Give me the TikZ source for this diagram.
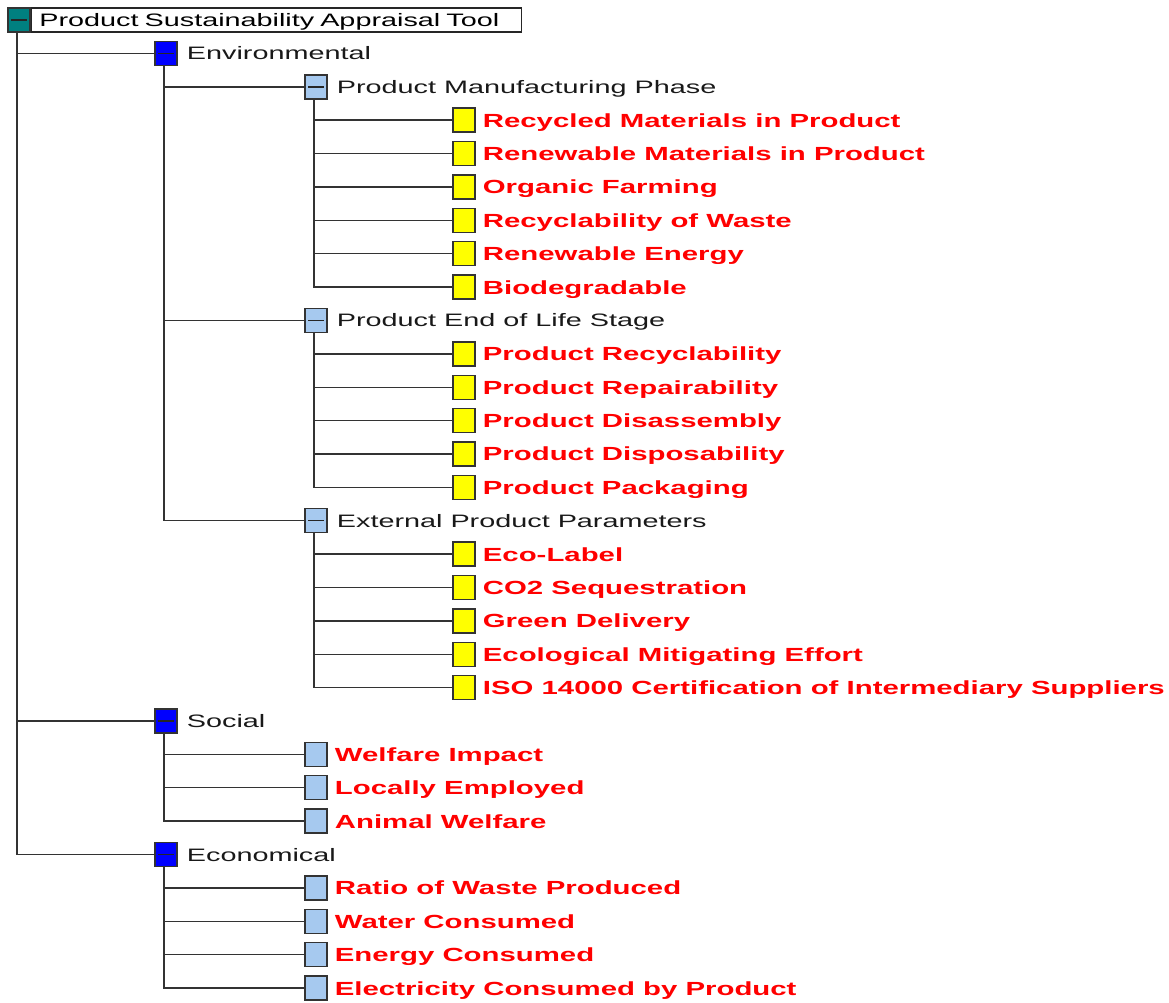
\documentclass[tikz,border=0pt]{standalone}
\usepackage{fontspec}
\setmainfont{Liberation Sans}
\newfontfamily\wideregular[FakeStretch=1.6]{Liberation Sans}
\newfontfamily\widebold[FakeStretch=1.545]{Liberation Sans Bold}
\usepackage{tikz}
\usetikzlibrary{positioning}
\definecolor{rootcol}{HTML}{008080}
\definecolor{groupcol}{HTML}{0000FF}
\definecolor{partcol}{HTML}{A6C9EF}
\definecolor{itemcol}{HTML}{FFFF00}
\definecolor{itemred}{HTML}{FF0000}

\begin{document}
\begin{tikzpicture}[
    x=1pt, y=1pt,
    box/.style={rectangle, draw=black!80, line width=1.4pt, minimum width=22pt, minimum height=24pt, inner sep=0pt},
    minus/.style={path picture={\draw[black!85, line width=1.4pt] ([xshift=3pt]path picture bounding box.west) -- ([xshift=-3pt]path picture bounding box.east);}},
    rootbox/.style={box, minus, fill=rootcol},
    groupbox/.style={box, minus, fill=groupcol},
    partbox/.style={box, minus, fill=partcol},
    leafbox/.style={box, fill=partcol},
    itembox/.style={box, fill=itemcol},
    head/.style={inner sep=0pt, anchor=west, text height=13pt, text depth=0pt, font=\wideregular\fontsize{18}{20}\selectfont, text=black!90},
    item/.style={inner sep=0pt, anchor=west, text height=14pt, text depth=0pt, font=\widebold\fontsize{19}{21}\selectfont, text=itemred},
    conn/.style={draw=black!80, line width=1.4pt}
]
    \useasboundingbox (0,0) rectangle (1169,-1002);

    % root
    \node [rootbox] (root) at (19,-20) {};
    \node [draw=black!85, line width=1.4pt, fill=white, anchor=west, inner xsep=8pt, inner ysep=0pt, minimum height=24pt, text width=474pt, align=left, text height=13pt, text depth=0pt, font=\wideregular\fontsize{18}{20}\selectfont, right=0pt of root] (rootlbl) {Product Sustainability Appraisal Tool};

    % first level
    \node [groupbox] (env) at (166,-53.4) {};
    \node [head, right=9pt of env] (envlbl) {Environmental};
    \node [groupbox] (soc) at (166,-721.0) {};
    \node [head, right=9pt of soc] (soclbl) {Social};
    \node [groupbox] (eco) at (166,-854.5) {};
    \node [head, right=9pt of eco] (ecolbl) {Economical};

    % environmental parts
    \node [partbox] (pmp) at (316,-86.8) {};
    \node [head, right=9pt of pmp] (pmplbl) {Product Manufacturing Phase};
    \node [partbox] (eol) at (316,-320.4) {};
    \node [head, right=9pt of eol] (eollbl) {Product End of Life Stage};
    \node [partbox] (ext) at (316,-520.7) {};
    \node [head, right=9pt of ext] (extlbl) {External Product Parameters};

    % manufacturing items
    \node [itembox] (m1) at (464,-120.1) {};
    \node [item, right=7pt of m1] (m1lbl) {Recycled Materials in Product};
    \node [itembox] (m2) at (464,-153.5) {};
    \node [item, right=7pt of m2] (m2lbl) {Renewable Materials in Product};
    \node [itembox] (m3) at (464,-186.9) {};
    \node [item, right=7pt of m3] (m3lbl) {Organic Farming};
    \node [itembox] (m4) at (464,-220.3) {};
    \node [item, right=7pt of m4] (m4lbl) {Recyclability of Waste};
    \node [itembox] (m5) at (464,-253.7) {};
    \node [item, right=7pt of m5] (m5lbl) {Renewable Energy};
    \node [itembox] (m6) at (464,-287.0) {};
    \node [item, right=7pt of m6] (m6lbl) {Biodegradable};

    % end of life items
    \node [itembox] (e1) at (464,-353.8) {};
    \node [item, right=7pt of e1] (e1lbl) {Product Recyclability};
    \node [itembox] (e2) at (464,-387.2) {};
    \node [item, right=7pt of e2] (e2lbl) {Product Repairability};
    \node [itembox] (e3) at (464,-420.6) {};
    \node [item, right=7pt of e3] (e3lbl) {Product Disassembly};
    \node [itembox] (e4) at (464,-453.9) {};
    \node [item, right=7pt of e4] (e4lbl) {Product Disposability};
    \node [itembox] (e5) at (464,-487.3) {};
    \node [item, right=7pt of e5] (e5lbl) {Product Packaging};

    % external items
    \node [itembox] (x1) at (464,-554.1) {};
    \node [item, right=7pt of x1] (x1lbl) {Eco-Label};
    \node [itembox] (x2) at (464,-587.5) {};
    \node [item, right=7pt of x2] (x2lbl) {CO2 Sequestration};
    \node [itembox] (x3) at (464,-620.8) {};
    \node [item, right=7pt of x3] (x3lbl) {Green Delivery};
    \node [itembox] (x4) at (464,-654.2) {};
    \node [item, right=7pt of x4] (x4lbl) {Ecological Mitigating Effort};
    \node [itembox] (x5) at (464,-687.6) {};
    \node [item, right=7pt of x5] (x5lbl) {ISO 14000 Certification of Intermediary Suppliers};

    % social items
    \node [leafbox] (s1) at (316,-754.4) {};
    \node [item, right=7pt of s1] (s1lbl) {Welfare Impact};
    \node [leafbox] (s2) at (316,-787.7) {};
    \node [item, right=7pt of s2] (s2lbl) {Locally Employed};
    \node [leafbox] (s3) at (316,-821.1) {};
    \node [item, right=7pt of s3] (s3lbl) {Animal Welfare};

    % economical items
    \node [leafbox] (c1) at (316,-887.9) {};
    \node [item, right=7pt of c1] (c1lbl) {Ratio of Waste Produced};
    \node [leafbox] (c2) at (316,-921.3) {};
    \node [item, right=7pt of c2] (c2lbl) {Water Consumed};
    \node [leafbox] (c3) at (316,-954.6) {};
    \node [item, right=7pt of c3] (c3lbl) {Energy Consumed};
    \node [leafbox] (c4) at (316,-988.0) {};
    \node [item, right=7pt of c4] (c4lbl) {Electricity Consumed by Product};

    % tree lines
    \foreach \kid in {env, soc, eco}
        \draw [conn] ([xshift=-2pt]root.south) |- (\kid.west);
    \foreach \kid in {pmp, eol, ext}
        \draw [conn] ([xshift=-2pt]env.south) |- (\kid.west);
    \foreach \kid in {m1, m2, m3, m4, m5, m6}
        \draw [conn] ([xshift=-2pt]pmp.south) |- (\kid.west);
    \foreach \kid in {e1, e2, e3, e4, e5}
        \draw [conn] ([xshift=-2pt]eol.south) |- (\kid.west);
    \foreach \kid in {x1, x2, x3, x4, x5}
        \draw [conn] ([xshift=-2pt]ext.south) |- (\kid.west);
    \foreach \kid in {s1, s2, s3}
        \draw [conn] ([xshift=-2pt]soc.south) |- (\kid.west);
    \foreach \kid in {c1, c2, c3, c4}
        \draw [conn] ([xshift=-2pt]eco.south) |- (\kid.west);

\end{tikzpicture}
\end{document}
